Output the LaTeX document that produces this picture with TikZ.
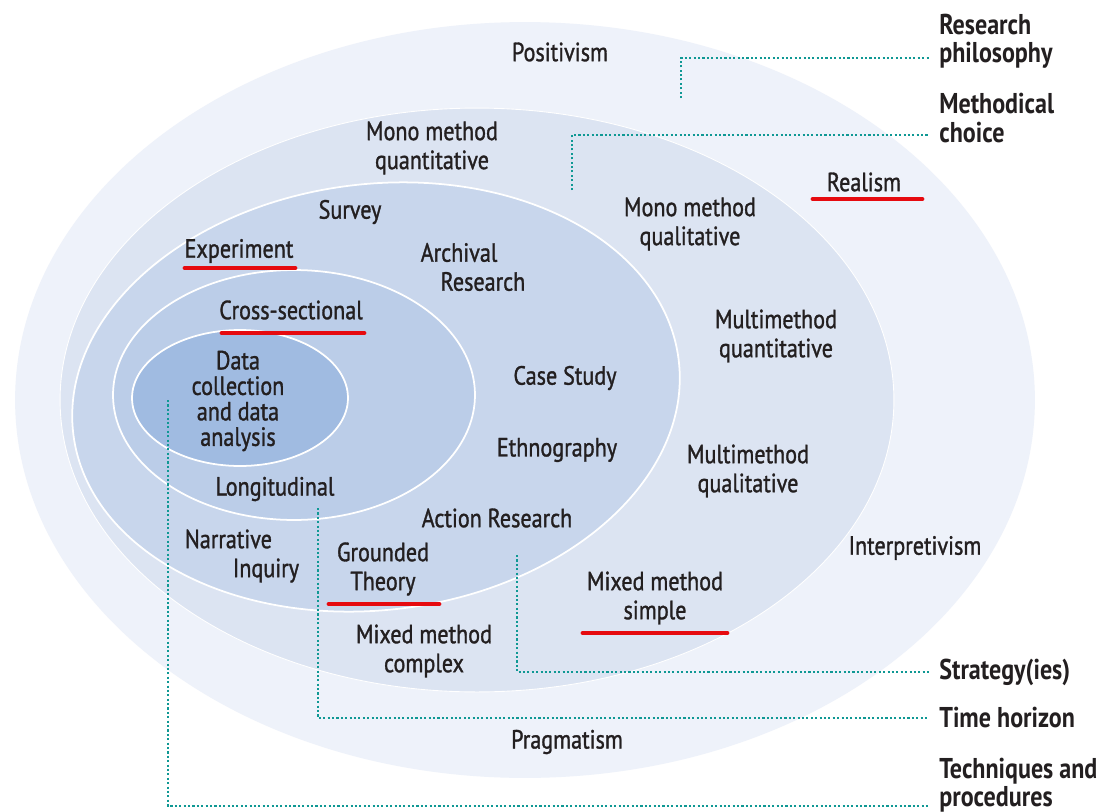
\documentclass[tikz,border=0pt]{standalone}
\usepackage{fontspec}
\setmainfont{PT Sans}[FakeStretch=0.84]
\newfontfamily\onionfont{PT Sans}[FakeStretch=0.84, FakeBold=1.2]
\definecolor{ringA}{HTML}{EEF2FA}
\definecolor{ringB}{HTML}{DCE4F2}
\definecolor{ringC}{HTML}{C8D6EC}
\definecolor{ringD}{HTML}{BBCDE8}
\definecolor{ringE}{HTML}{A0BBE1}
\definecolor{ink}{HTML}{231F20}
\definecolor{dotteal}{HTML}{0F9894}
\definecolor{hl}{HTML}{E60A0F}
\begin{document}
\begin{tikzpicture}[x=0.02cm,y=-0.02cm,
  lbl/.style={font=\onionfont\fontsize{15}{16.5}\selectfont, text=ink, align=center, inner sep=0pt},
  side/.style={font=\fontsize{16.3}{16}\selectfont\bfseries, text=ink, align=left, anchor=west, inner sep=0pt},
  link/.style={draw=dotteal, line width=1.35pt, dash pattern=on 1.2pt off 1.3pt},
  redbar/.style={draw=hl, line width=2.8pt, line cap=round},
  ringline/.style={draw=white, line width=1pt}]
\useasboundingbox (0,0) rectangle (1107,812);
\fill[white] (0,0) rectangle (1107,812);

% nested layers of the research onion
\fill[ringA] (525,400) ellipse [x radius=10.2cm, y radius=7.56cm];
\filldraw[ringB, draw=white, line width=0.5pt] (477,400) ellipse [x radius=8.34cm, y radius=5.84cm];
\filldraw[ringC, ringline, rotate around={7:(376,397)}] (376,397) ellipse [x radius=6.1cm, y radius=4.26cm];
\filldraw[ringD, ringline] (294,395) ellipse [x radius=3.62cm, y radius=2.5cm];
\filldraw[ringE, ringline] (240,398) ellipse [x radius=2.16cm, y radius=1.36cm];

% research philosophy
\node[lbl] (posit) at (560,52) {Positivism};
\node[lbl] (real) at (864,182) {Realism};
\node[lbl] (interp) at (915,548) {Interpretivism};
\node[lbl] (pragm) at (567,742) {Pragmatism};

% methodical choice
\node[lbl] (monoqn) at (432,148) {Mono method\\quantitative};
\node[lbl] (monoql) at (690,224) {Mono method\\qualitative};
\node[lbl] (multqn) at (776,336) {Multimethod\\quantitative};
\node[lbl] (multql) at (748,471) {Multimethod\\qualitative};
\node[lbl] (mixs) at (655,598) {Mixed method\\simple};
\node[lbl] (mixc) at (424,651) {Mixed method\\complex};

% strategies
\node[lbl] (survey) at (350,212) {Survey};
\node[lbl] (exper) at (239,251) {Experiment};
\node[lbl, align=left] (arch) at (473,267) {Archival\\\hspace*{0.4cm}Research};
\node[lbl] (case) at (565,378) {Case Study};
\node[lbl] (ethno) at (557,450) {Ethnography};
\node[lbl] (action) at (497,518) {Action Research};
\node[lbl, align=left] (narr) at (242,556) {Narrative\\\hspace*{0.96cm}Inquiry};
\node[lbl] (ground) at (383,569) {Grounded\\Theory};

% time horizon
\node[lbl] (cross) at (291,310) {Cross-sectional};
\node[lbl] (longi) at (275,489) {Longitudinal};

% core
\node[lbl, font=\onionfont\fontsize{15}{14.5}\selectfont] (core) at (238,401) {Data\\collection\\and data\\analysis};

% layer captions
\node[side] (lphil) at (939,41) {Research\\philosophy};
\node[side] (lmeth) at (939,118) {Methodical\\choice};
\node[side] (lstrat) at (939,672) {Strategy(ies)};
\node[side] (ltime) at (939,718) {Time horizon};
\node[side] (ltech) at (939,785) {Techniques and\\procedures};

% highlighted choices
\draw[redbar] (813,199) -- (922,199);
\draw[redbar] (185,268) -- (295,268);
\draw[redbar] (222,333) -- (364,333);
\draw[redbar] (329,604) -- (439,604);
\draw[redbar] (583,633) -- (727,633);

% leader lines from each layer to its caption
\coordinate (rpA) at (681,98);  \coordinate (rpB) at (929,58);
\coordinate (mcA) at (572,190); \coordinate (mcB) at (929,135);
\coordinate (stA) at (517,555); \coordinate (stB) at (929,672);
\coordinate (thA) at (318,508); \coordinate (thB) at (929,718);
\coordinate (tpA) at (168,400); \coordinate (tpB) at (929,806);
\draw[link] (rpA) |- (rpB);
\draw[link] (mcA) |- (mcB);
\draw[link] (stA) |- (stB);
\draw[link] (thA) |- (thB);
\draw[link] (tpA) |- (tpB);
\end{tikzpicture}
\end{document}
